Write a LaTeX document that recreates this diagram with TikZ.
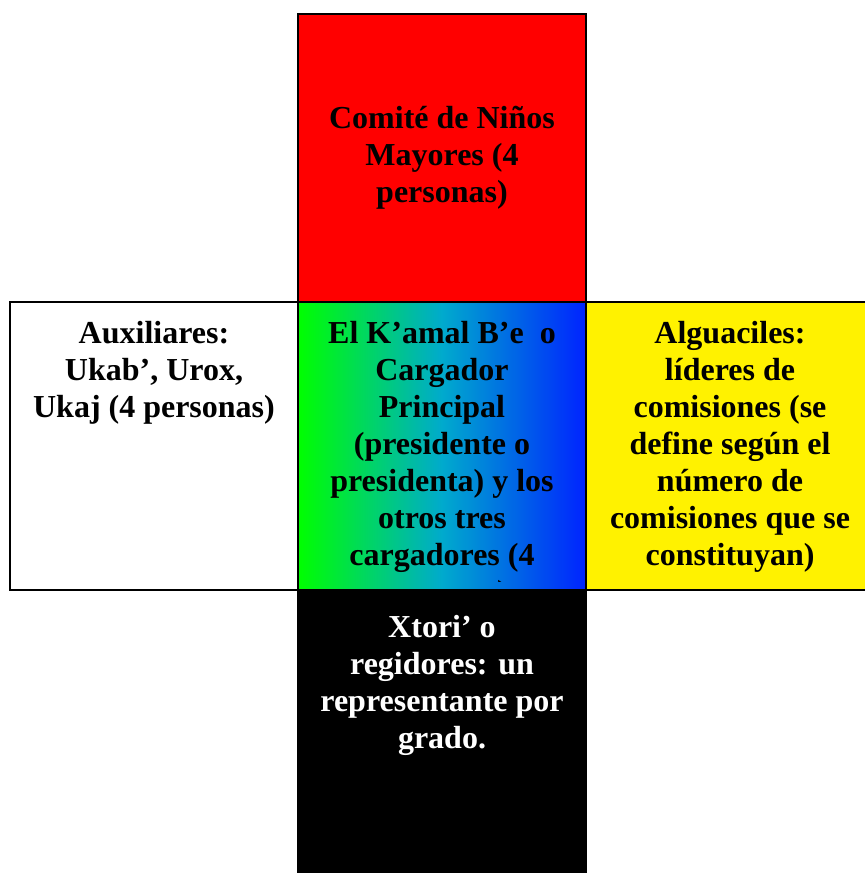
\documentclass[tikz,border=0pt]{standalone}
\usepackage{fontspec}
\setmainfont{Liberation Serif}
\usetikzlibrary{positioning,calc}
\definecolor{kgreen}{RGB}{0,255,0}
\definecolor{kteal}{RGB}{0,170,205}
\definecolor{kblue}{RGB}{0,35,255}
\tikzset{cell/.style={draw,line width=1.5pt,minimum size=216pt,outer sep=0pt,inner sep=0pt},
  txt/.style={font=\bfseries\fontsize{24}{27.75}\selectfont,align=center,anchor=base,inner sep=0pt}}

\begin{document}
\begin{tikzpicture}[x=0.75pt,y=-0.75pt]
\useasboundingbox(0,0)rectangle(864,873);
\node[cell,left color=kgreen,right color=kblue,middle color=kteal](cargo)at(442,446){};
\node[cell,fill=red,above=0pt of cargo](ninos){};
\node[cell,fill=white,left=0pt of cargo](aux){};
\node[cell,fill=yellow,right=0pt of cargo](alg){};
\node[cell,fill=black,below=0pt of cargo](xtori){};
% base = last line
\node[txt]at($(ninos.north)+(0,189)$)(ninost){Comit\'e de Ni\~nos\\Mayores (4\\personas)};
\node[txt]at($(aux.north)+(0,115)$)(auxt){Auxiliares:\\Ukab’, Urox,\\Ukaj (4 personas)};
\node[txt]at($(alg.north)+(0,263)$)(algt){Alguaciles:\\l\'ideres de\\comisiones (se\\define seg\'un el\\n\'umero de\\comisiones que se\\constituyan)};
\node[txt,text=white]at($(xtori.north)+(0,158)$)(xtorit){Xtori’ o\\regidores: un\\representante por\\grado.};
\begin{scope}
\clip(298,302)rectangle(586,581);
\node[txt]at($(cargo.north)+(0,300)$)(cargot){El K’amal B’e\ \ o\\Cargador\\Principal\\(presidente o\\presidenta) y los\\otros tres\\cargadores (4\\personas)};
\end{scope}
\end{tikzpicture}
\end{document}
